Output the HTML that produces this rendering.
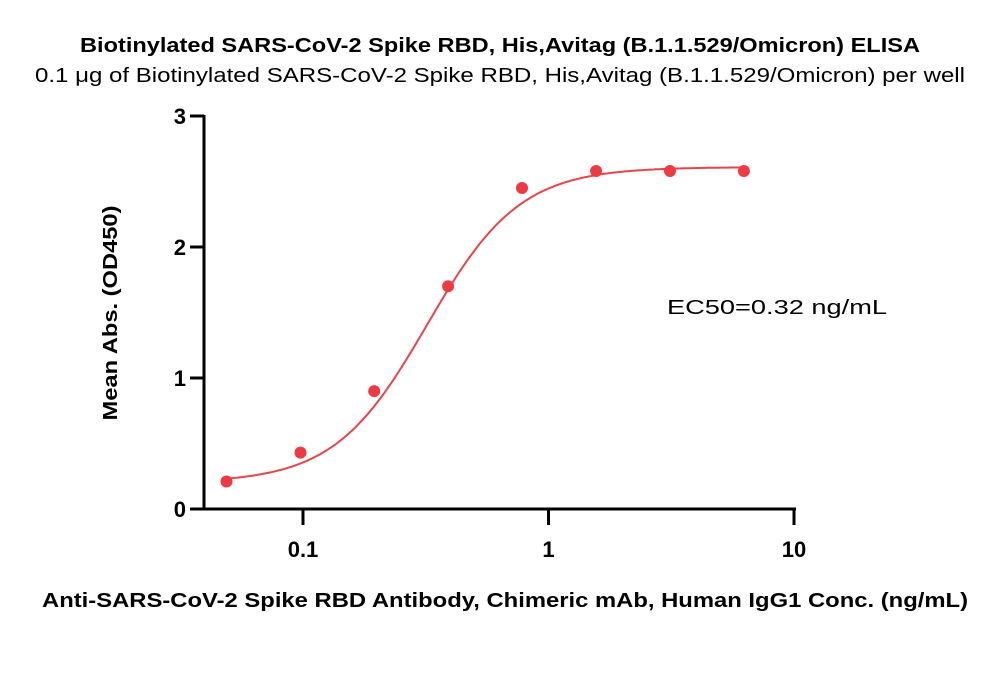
<!DOCTYPE html>
<html><head><meta charset="utf-8"><style>
body{margin:0;background:#fff;}
svg text{font-family:"Liberation Sans",sans-serif;}
</style></head><body>
<svg width="1000" height="677" xmlns="http://www.w3.org/2000/svg">
<text x="500" y="52" text-anchor="middle" font-size="20" font-weight="bold" textLength="840" lengthAdjust="spacingAndGlyphs">Biotinylated SARS-CoV-2 Spike RBD, His,Avitag (B.1.1.529/Omicron) ELISA</text>
<text x="500" y="82" text-anchor="middle" font-size="20" textLength="930" lengthAdjust="spacingAndGlyphs">0.1 μg of Biotinylated SARS-CoV-2 Spike RBD, His,Avitag (B.1.1.529/Omicron) per well</text>
<text transform="translate(117,313) rotate(-90)" text-anchor="middle" font-size="20" font-weight="bold" textLength="215" lengthAdjust="spacingAndGlyphs">Mean Abs. (OD450)</text>
<text x="505" y="607" text-anchor="middle" font-size="20" font-weight="bold" textLength="926" lengthAdjust="spacingAndGlyphs">Anti-SARS-CoV-2 Spike RBD Antibody, Chimeric mAb, Human IgG1 Conc. (ng/mL)</text>
<text x="667" y="314" font-size="20" textLength="220" lengthAdjust="spacingAndGlyphs">EC50=0.32 ng/mL</text>
<g id="axes"></g>
<g id="plot"></g>
</svg>
<script>
const concs=[0.0488,0.0977,0.195,0.39,0.78,1.5625,3.125,6.25];
const ods=[0.21,0.43,0.90,1.70,2.45,2.58,2.58,2.58];
const yTicks=[0,1,2,3];
const xTicks=[0.1,1,10];
const xTickLabels=["0.1","1","10"];
const fitBottom=0.2, fitTop=2.61, fitEC50=0.32, fitHill=2.3;
const NS="http://www.w3.org/2000/svg";
const xs=v=>303+245.5*Math.log10(v/0.1);
const ys=v=>509-131*v;
const axes=document.getElementById('axes'),plot=document.getElementById('plot');
function mk(tag,attrs,parent){const e=document.createElementNS(NS,tag);for(const k in attrs)e.setAttribute(k,attrs[k]);parent.appendChild(e);return e;}
let l=mk('line',{x1:204,y1:ys(3)-1,x2:204,y2:510.5,stroke:'#000','stroke-width':3},axes);


l=mk('line',{x1:190,y1:509,x2:796,y2:509,stroke:'#000','stroke-width':3},axes);


yTicks.forEach(t=>{
 const tk=mk('line',{x1:190,y1:ys(t),x2:204,y2:ys(t),stroke:'#000','stroke-width':3},axes);
 
 
 const tx=mk('text',{x:186,y:ys(t)+8,'text-anchor':'end','font-size':22,'font-weight':'bold'},axes);
 tx.textContent=t;
 
 
});
xTicks.forEach((t,i)=>{
 const tk=mk('line',{x1:xs(t),y1:509,x2:xs(t),y2:525,stroke:'#000','stroke-width':3},axes);
 
 
 const tx=mk('text',{x:xs(t),y:557,'text-anchor':'middle','font-size':22,'font-weight':'bold'},axes);
 tx.textContent=xTickLabels[i];
 
 
});
let d='';
const lo=Math.log10(concs[0]),hi=Math.log10(concs[concs.length-1]);
for(let i=0;i<=200;i++){const lx=lo+(hi-lo)*i/200;const c=Math.pow(10,lx);
 const y=fitBottom+(fitTop-fitBottom)/(1+Math.pow(fitEC50/c,fitHill));
 d+=(i?'L':'M')+xs(c).toFixed(1)+','+ys(y).toFixed(1);}
const p=mk('path',{d:d,fill:'none',stroke:'#e8454a','stroke-width':2},plot);


concs.forEach((c,i)=>{
 const pt=mk('circle',{cx:xs(c),cy:ys(ods[i]),r:6,fill:'#ee3b43'},plot);
 
 
});
</script>
</body></html>
